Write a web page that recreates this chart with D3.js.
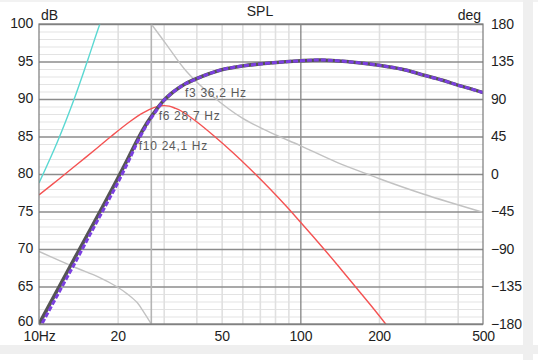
<!DOCTYPE html>
<html>
<head>
<meta charset="utf-8">
<script src="https://cdn.jsdelivr.net/npm/d3@7"></script>
<style>
  html, body { margin: 0; padding: 0; background: #fff; }
  svg { display: block; }
  .tick text { font-family: "Liberation Sans", Arial, sans-serif; font-size: 14px; fill: #1e1e1e; letter-spacing: -0.2px; }
  .lbl { font-family: "Liberation Sans", Arial, sans-serif; font-size: 14px; fill: #1e1e1e; }
  .note { font-family: "Liberation Sans", Arial, sans-serif; font-size: 12px; fill: #5a5a5a; letter-spacing: 0.7px; }
</style>
</head>
<body>
<svg id="chart" width="538" height="360"></svg>
<script>
// frequency grid shared by both SPL traces (Hz)
var freqs = [10, 12, 14, 16, 18, 20, 22, 24, 26, 28, 30, 32, 34, 36.2, 40, 45, 50, 60, 76.6, 100, 120, 150, 200, 250, 295, 350, 400, 450, 500];
// total SPL, dark gray trace (dB)
var splGray = [60.0, 65.1, 69.4, 73.1, 76.4, 79.4, 82.2, 84.8, 86.9, 88.5, 89.8, 90.7, 91.4, 92.0, 92.7, 93.4, 93.9, 94.4, 94.8, 95.1, 95.2, 95.0, 94.5, 93.9, 93.2, 92.5, 91.85, 91.35, 90.85];
// purple trace (dB)
var splPurple = [59.3, 64.4, 68.7, 72.5, 75.8, 78.8, 81.7, 84.5, 86.7, 88.35, 89.8, 90.7, 91.4, 92.0, 92.7, 93.4, 93.9, 94.4, 94.8, 95.1, 95.2, 95.0, 94.5, 93.9, 93.2, 92.5, 91.85, 91.35, 90.85];

// red trace
var redFreqs = [10, 12, 14, 16.6, 19, 22.3, 25, 27.5, 29.5, 31.5, 33, 35, 40, 47, 55.4, 65, 76.6, 90, 100, 122.4, 140, 159.6, 185, 211, 240];
var redDb = [77.2, 79.4, 81.3, 83.4, 85.1, 87.0, 88.15, 88.85, 89.1, 89.05, 88.8, 88.4, 87.0, 85.0, 82.8, 80.5, 78.0, 75.4, 73.6, 70.1, 67.7, 65.3, 62.6, 60.1, 57.5];

// cyan trace
var cyanFreqs = [10, 11.7, 13.6, 15.4, 17.1, 18.5];
var cyanDb = [78.8, 84.1, 89.9, 95.3, 100, 103];

// phase (deg), wraps from -180 to +180 near 26.9 Hz
var phaseFreqs = [10, 13.5, 17, 19.8, 22, 23.7, 25.2, 26.9, 26.9, 30.8, 36.7, 46.3, 60, 76.6, 100, 138, 180, 202, 295, 500];
var phaseDeg = [-93, -111, -124, -135, -145, -154, -166, -180, 180, 155, 123, 93, 67, 50, 34, 14, 0, -6, -24, -46];

// frequency markers
var markFreqs = [36.2, 28.7, 24.1];
var markDb = [92.1, 89.1, 85.1];
var markText = ["f3 36,2 Hz", "f6 28,7 Hz", "f10 24,1 Hz"];

var dbTicks = [60, 65, 70, 75, 80, 85, 90, 95, 100];
var degTicks = [-180, -135, -90, -45, 0, 45, 90, 135, 180];
var freqTicks = [10, 20, 50, 100, 200, 500];
var freqMinor = [20, 30, 40, 50, 60, 70, 80, 90, 200, 300, 400];
var freqMajor = [100];

var svg = d3.select("#chart"),
	margin = { top: 24, right: 55, bottom: 36, left: 39 },
	width = +svg.attr("width") - margin.left - margin.right,
	height = +svg.attr("height") - margin.top - margin.bottom;

// panel edges
svg.append("rect").attr("x", 0).attr("y", 0).attr("width", 538).attr("height", 2).attr("fill", "#f2f2f2");
svg.append("rect").attr("x", 0).attr("y", 345).attr("width", 538).attr("height", 9).attr("fill", "#efefef");
svg.append("rect").attr("x", 523).attr("y", 0).attr("width", 10).attr("height", 360).attr("fill", "#efefef");

var x = d3.scaleLog().domain([10, 500]).range([0, width]),
	y = d3.scaleLinear().domain([60, 100]).range([height, 0]),
	yDeg = d3.scaleLinear().domain([-180, 180]).range([height, 0]);

var g = svg.append("g")
	.attr("transform", "translate(" + margin.left + "," + margin.top + ")");

g.append("defs").append("clipPath").attr("id", "plotClip")
	.append("rect").attr("width", width).attr("height", height);

// minor grid
g.append("g")
	.call(d3.axisLeft(y).tickValues(d3.range(61, 100).filter(function(d) { return d % 5 !== 0; })).tickSize(-width).tickFormat(""))
	.call(function(s) { s.select(".domain").remove(); s.selectAll("line").attr("stroke", "#e3e3e3").attr("stroke-width", 1.2); });
g.append("g")
	.attr("transform", "translate(0," + height + ")")
	.call(d3.axisBottom(x).tickValues(freqMinor).tickSize(-height).tickFormat(""))
	.call(function(s) { s.select(".domain").remove(); s.selectAll("line").attr("stroke", "#e0e0e0").attr("stroke-width", 1.6); });

// major grid
g.append("g")
	.call(d3.axisLeft(y).tickValues(dbTicks).tickSize(-width).tickFormat(""))
	.call(function(s) { s.select(".domain").remove(); s.selectAll("line").attr("stroke", "#8c8c8c").attr("stroke-width", 1.4); });
g.append("g")
	.attr("transform", "translate(0," + height + ")")
	.call(d3.axisBottom(x).tickValues(freqMajor).tickSize(-height).tickFormat(""))
	.call(function(s) { s.select(".domain").remove(); s.selectAll("line").attr("stroke", "#8c8c8c").attr("stroke-width", 1.4); });

var plot = g.append("g").attr("clip-path", "url(#plotClip)");

function pairs(fs, vs) {
	return fs.map(function(f, i) { return [f, vs[i]]; });
}

var smooth = d3.curveCatmullRom.alpha(0.5);

var lineDb = d3.line()
	.x(function(d) { return x(d[0]); })
	.y(function(d) { return y(d[1]); })
	.curve(smooth);

var lineDeg = d3.line()
	.x(function(d) { return x(d[0]); })
	.y(function(d) { return yDeg(d[1]); });

// phase: two smooth pieces joined by the wrap
var ph = pairs(phaseFreqs, phaseDeg);
var wrapAt = 8;
plot.append("path")
	.datum(ph.slice(0, wrapAt))
	.attr("fill", "none").attr("stroke", "#c2c2c2").attr("stroke-width", 1.4)
	.attr("d", lineDeg.curve(smooth));
plot.append("path")
	.datum(ph.slice(wrapAt - 1, wrapAt + 1))
	.attr("fill", "none").attr("stroke", "#b4b4b4").attr("stroke-width", 1.6)
	.attr("d", lineDeg.curve(d3.curveLinear));
plot.append("path")
	.datum(ph.slice(wrapAt))
	.attr("fill", "none").attr("stroke", "#c2c2c2").attr("stroke-width", 1.4)
	.attr("d", lineDeg.curve(smooth));

plot.append("path")
	.datum(pairs(cyanFreqs, cyanDb))
	.attr("fill", "none").attr("stroke", "#5ad8d2").attr("stroke-width", 1.4)
	.attr("d", lineDb);

plot.append("path")
	.datum(pairs(redFreqs, redDb))
	.attr("fill", "none").attr("stroke", "#f45252").attr("stroke-width", 1.4)
	.attr("d", lineDb);

plot.append("path")
	.datum(pairs(freqs, splGray))
	.attr("fill", "none").attr("stroke", "#555").attr("stroke-width", 3.6)
	.attr("d", lineDb);

plot.append("path")
	.datum(pairs(freqs, splPurple))
	.attr("fill", "none").attr("stroke", "#7b3fe0").attr("stroke-width", 3)
	.attr("stroke-dasharray", "5,2")
	.attr("d", lineDb);

// frame
g.append("rect")
	.attr("width", width).attr("height", height)
	.attr("fill", "none").attr("stroke", "#7a7a7a").attr("stroke-width", 1.2);

// axes
g.append("g")
	.call(d3.axisLeft(y).tickValues(dbTicks).tickSize(0).tickPadding(6))
	.call(function(s) {
		s.select(".domain").remove();
		// lowest label sits just above the "10Hz" label
		s.selectAll("text").attr("dy", function(d) { return d === 60 ? "0.1em" : "0.25em"; });
	});

g.append("g")
	.attr("transform", "translate(" + width + ",0)")
	.call(d3.axisRight(yDeg).tickValues(degTicks).tickSize(0).tickPadding(8))
	.call(function(s) { s.select(".domain").remove(); });

g.append("g")
	.attr("transform", "translate(0," + height + ")")
	.call(d3.axisBottom(x).tickValues(freqTicks).tickSize(0).tickPadding(7.5)
		.tickFormat(function(d) { return d === 10 ? "10Hz" : d; }))
	.call(function(s) { s.select(".domain").remove(); });

// titles
svg.append("text").attr("class", "lbl").attr("x", 260).attr("y", 16).attr("text-anchor", "middle").text("SPL");
svg.append("text").attr("class", "lbl").attr("x", 41).attr("y", 20).text("dB");
svg.append("text").attr("class", "lbl").attr("x", 481).attr("y", 20).attr("text-anchor", "end").text("deg");

// marker notes
g.selectAll(".note")
	.data(markFreqs)
	.enter().append("text")
	.attr("class", "note")
	.attr("x", function(d) { return x(d); })
	.attr("y", function(d, i) { return y(markDb[i]) + 14; })
	.text(function(d, i) { return markText[i]; });
</script>
</body>
</html>
